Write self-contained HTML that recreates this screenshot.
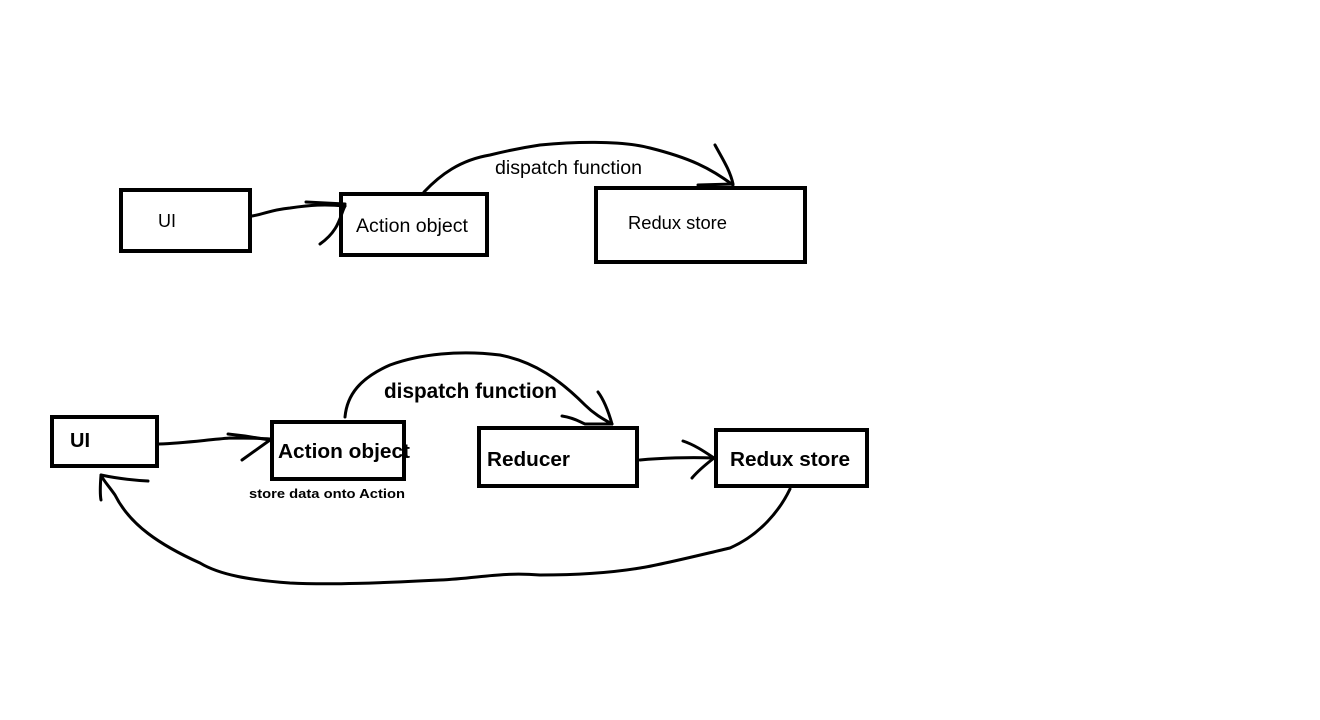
<!DOCTYPE html>
<html><head><style>
html,body{margin:0;padding:0;background:#fff;}
svg{display:block;}
text{font-family:"Liberation Sans",sans-serif;fill:#000;}
</style></head><body>
<svg width="1320" height="720" viewBox="0 0 1320 720" xmlns="http://www.w3.org/2000/svg">
<g fill="none" stroke="#000" stroke-width="4">
<rect x="121" y="190" width="129" height="61"/>
<rect x="341" y="194" width="146" height="61"/>
<rect x="596" y="188" width="209" height="74"/>
<rect x="52" y="417" width="105" height="49"/>
<rect x="272" y="422" width="132" height="57"/>
<rect x="479" y="428" width="158" height="58"/>
<rect x="716" y="430" width="151" height="56"/>
</g>
<g fill="none" stroke="#000" stroke-width="3" stroke-linecap="round" stroke-linejoin="round">
<path d="M252 216 C265 214 270 210 290 208 C310 205 325 204 345 206"/>
<path d="M306 202 L345 204 M345 206 C340 215 340 230 320 244"/>
<path d="M424 192 C440 175 460 160 490 155 C510 150 520 148 540 145 C570 142 620 140 650 148 C690 158 710 168 733 185"/>
<path d="M698 185 L733 184 M733 184 C730 170 722 158 715 145"/>
<path d="M159 444 C185 443 205 440 230 438 C250 438 260 438 270 439"/>
<path d="M228 434 L245 436 L270 440 L242 460"/>
<path d="M345 417 C347 395 360 378 390 365 C420 354 460 350 500 355 C535 362 560 380 585 405 C595 415 605 420 612 424"/>
<path d="M562 416 C575 418 580 422 585 424 L612 424 C608 410 604 400 598 392"/>
<path d="M640 460 C660 458 690 457 714 458"/>
<path d="M683 441 C695 445 705 452 714 458 C705 465 697 472 692 478"/>
<path d="M790 489 C780 510 760 535 730 548 C700 555 660 565 640 568 C610 573 580 575 540 575 C500 572 480 578 440 580 C380 583 330 585 290 583 C250 580 220 575 200 563 C160 545 130 525 115 495 C108 485 103 480 101 475 C100 488 100 495 101 500"/>
<path d="M101 475 C115 478 130 480 148 481"/>
</g>
<text x="158" y="227" font-size="18">UI</text>
<text x="356" y="232" font-size="19" textLength="112" lengthAdjust="spacingAndGlyphs">Action object</text>
<text x="628" y="229" font-size="18.5" textLength="99" lengthAdjust="spacingAndGlyphs">Redux store</text>
<text x="495" y="174" font-size="19" textLength="147" lengthAdjust="spacingAndGlyphs">dispatch function</text>
<g font-weight="bold">
<text x="70" y="447" font-size="20">UI</text>
<text x="278" y="458" font-size="20.5" textLength="132" lengthAdjust="spacingAndGlyphs">Action object</text>
<text x="487" y="466" font-size="20.5" textLength="83" lengthAdjust="spacingAndGlyphs">Reducer</text>
<text x="730" y="466" font-size="20.5" textLength="120" lengthAdjust="spacingAndGlyphs">Redux store</text>
<text x="384" y="398" font-size="21" textLength="173" lengthAdjust="spacingAndGlyphs">dispatch function</text>
<text x="249" y="498" font-size="13" textLength="156" lengthAdjust="spacingAndGlyphs">store data onto Action</text>
</g>
</svg>
</body></html>
